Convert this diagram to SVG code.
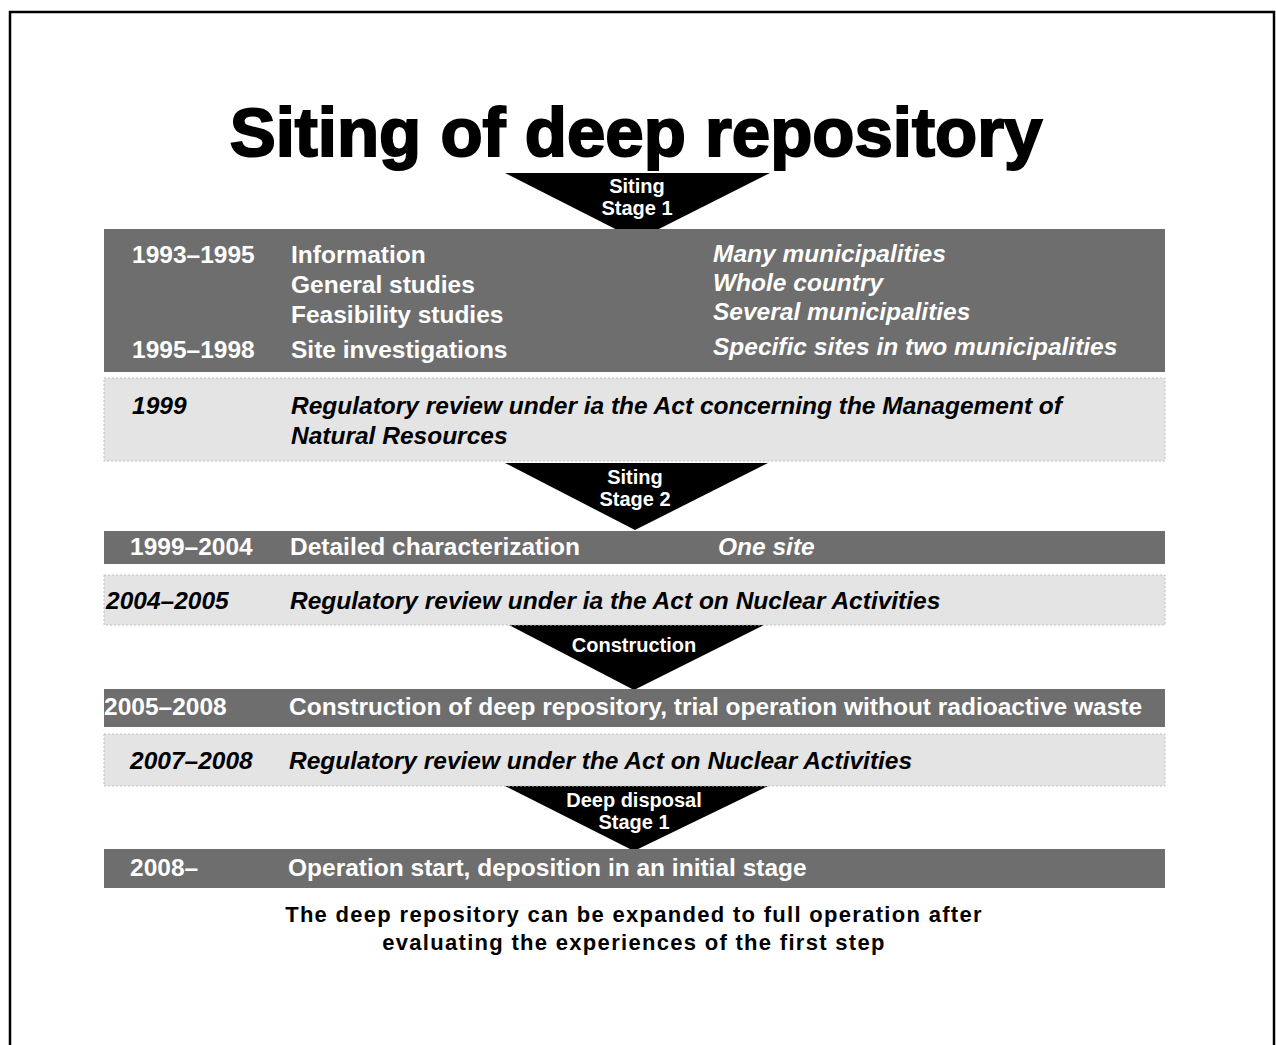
<svg xmlns="http://www.w3.org/2000/svg" width="1276" height="1045" viewBox="0 0 1276 1045">
<style>
.frame{fill:none;stroke:#000;stroke-width:2.5}
.dark{fill:#6e6e6e}
.light{fill:#e4e4e4;stroke:#c0c0c0;stroke-width:1;stroke-dasharray:2 2}
.tri{fill:#000}
.t{font-family:"Liberation Sans",Arial,sans-serif;font-weight:bold}
.title{font-size:69px;stroke:#000;stroke-width:2}
.w{fill:#fff;font-size:24.5px}
.k{fill:#000;font-size:24.5px;font-style:italic}
.wi{fill:#fff;font-size:24.5px;font-style:italic}
.lab{fill:#fff;font-size:20px;text-anchor:middle}
.foot{fill:#000;font-size:22px;letter-spacing:1.3px;text-anchor:middle}
</style>
<rect width="1276" height="1045" fill="#fff"/>
<rect class="frame" x="10" y="12" width="1264" height="1045"/>
<text class="t title" x="636" y="156" text-anchor="middle">Siting of deep repository</text>

<g id="connectors">
<g id="arrow-siting1"><polygon class="tri" points="505,173 770,173 637,240"/><text class="t lab" x="637" y="193">Siting</text><text class="t lab" x="637" y="215">Stage 1</text></g>
<g id="arrow-siting2"><polygon class="tri" points="505,463 768,463 635,530"/><text class="t lab" x="635" y="484">Siting</text><text class="t lab" x="635" y="506">Stage 2</text></g>
<g id="arrow-construction"><polygon class="tri" points="505,623 768,623 634,690"/><text class="t lab" x="634" y="652">Construction</text></g>
<g id="arrow-disposal"><polygon class="tri" points="505,786 768,786 634,851"/><text class="t lab" x="634" y="807">Deep disposal</text><text class="t lab" x="634" y="829">Stage 1</text></g>
</g>

<g id="band-1993">
<rect class="dark" x="104" y="229" width="1061" height="143"/>
<text class="t w" x="132" y="263">1993–1995</text>
<text class="t w" x="291" y="263">Information</text>
<text class="t w" x="291" y="293">General studies</text>
<text class="t w" x="291" y="323">Feasibility studies</text>
<text class="t w" x="132" y="358">1995–1998</text>
<text class="t w" x="291" y="358">Site investigations</text>
<text class="t wi" x="713" y="262">Many municipalities</text>
<text class="t wi" x="713" y="291">Whole country</text>
<text class="t wi" x="713" y="320">Several municipalities</text>
<text class="t wi" x="713" y="355">Specific sites in two municipalities</text>
</g>
<g id="band-1999">
<rect class="light" x="104" y="378" width="1061" height="83"/>
<text class="t k" x="132" y="414">1999</text>
<text class="t k" x="291" y="414">Regulatory review under ia the Act concerning the Management of</text>
<text class="t k" x="291" y="444">Natural Resources</text>
</g>
<g id="band-1999-2004">
<rect class="dark" x="104" y="531" width="1061" height="33"/>
<text class="t w" x="130" y="555">1999–2004</text>
<text class="t w" x="290" y="555">Detailed characterization</text>
<text class="t wi" x="718" y="555">One site</text>
</g>
<g id="band-2004-2005">
<rect class="light" x="104" y="575" width="1061" height="50"/>
<text class="t k" x="106" y="609">2004–2005</text>
<text class="t k" x="290" y="609">Regulatory review under ia the Act on Nuclear Activities</text>
</g>
<g id="band-2005-2008">
<rect class="dark" x="104" y="689" width="1061" height="38"/>
<text class="t w" x="104" y="715">2005–2008</text>
<text class="t w" x="289" y="715">Construction of deep repository, trial operation without radioactive waste</text>
</g>
<g id="band-2007-2008">
<rect class="light" x="104" y="734" width="1061" height="52"/>
<text class="t k" x="130" y="769">2007–2008</text>
<text class="t k" x="289" y="769">Regulatory review under the Act on Nuclear Activities</text>
</g>
<g id="band-2008">
<rect class="dark" x="104" y="849" width="1061" height="39"/>
<text class="t w" x="130" y="876">2008–</text>
<text class="t w" x="288" y="876">Operation start, deposition in an initial stage</text>
</g>
<g id="footer">
<text class="t foot" x="634" y="922">The deep repository can be expanded to full operation after</text>
<text class="t foot" x="634" y="950">evaluating the experiences of the first step</text>
</g>
</svg>
